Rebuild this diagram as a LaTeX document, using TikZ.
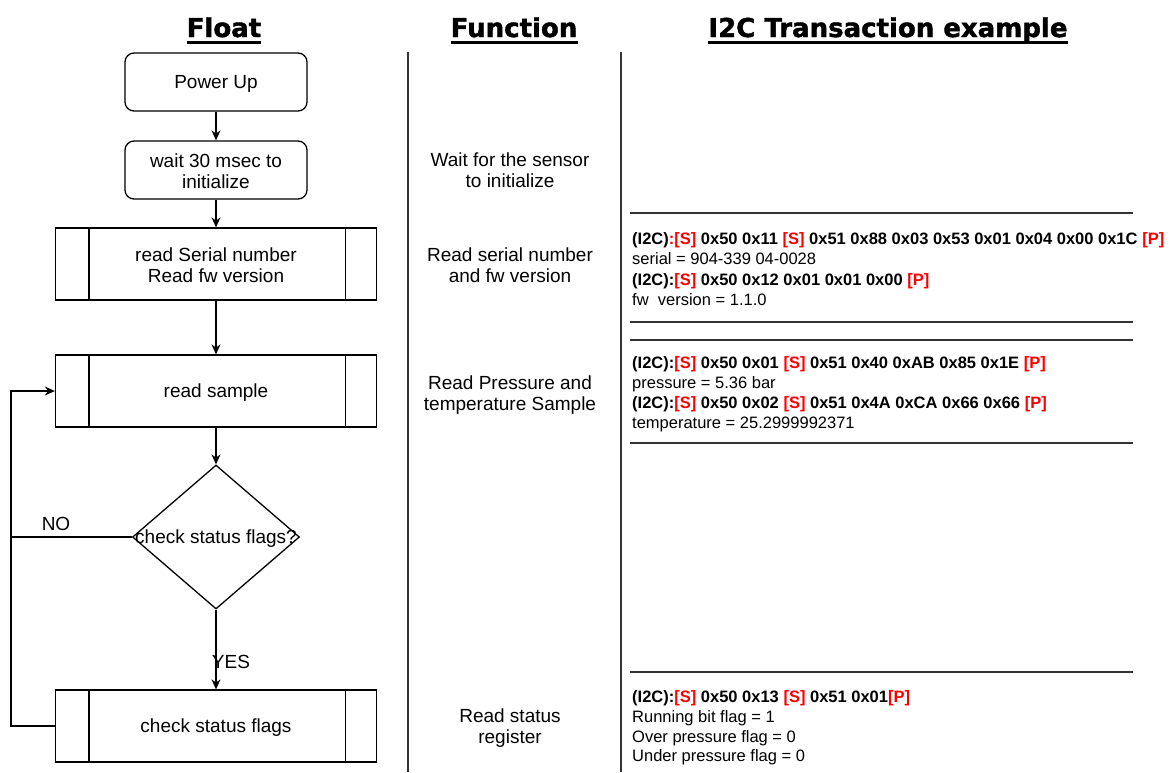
\documentclass[tikz,border=0pt]{standalone}
\usepackage{fontspec}
\setmainfont{Liberation Sans}
\newfontfamily\headfont[FakeBold=1.6]{DejaVu Sans Bold}
\usetikzlibrary{shapes.geometric,arrows.meta}
\definecolor{sepgray}{HTML}{333333}
\definecolor{tred}{HTML}{FF0000}
\newcommand{\rS}{\textcolor{tred}{[S]}}
\newcommand{\rP}{\textcolor{tred}{[P]}}
\begin{document}
\begin{tikzpicture}[x=1pt,y=-1pt,
  every node/.style={inner sep=0pt},
  flowtxt/.style={font=\fontsize{19}{21}\selectfont, align=center},
  roundbox/.style={draw, line width=1.3pt, rounded corners=9pt, minimum width=182pt, minimum height=58pt, flowtxt},
  procbox/.style={draw, line width=1.3pt, minimum width=321pt, minimum height=72pt, flowtxt},
  decbox/.style={draw, diamond, line width=1.3pt, minimum width=167pt, minimum height=144pt},
  head/.style={font=\headfont\fontsize{26}{30}\selectfont, anchor=base},
  uline/.style={line width=2.6pt},
  functxt/.style={font=\fontsize{19}{21}\selectfont, align=center},
  rtxt/.style={font=\fontsize{16.5}{20}\selectfont, anchor=base west},
  rbold/.style={rtxt, font=\fontsize{16.5}{20}\selectfont\bfseries},
  sep/.style={draw=sepgray, line width=1.8pt},
  flow/.style={line width=1.3pt},
  arr/.style={flow, -{Stealth[length=10pt,width=9pt]}}
]
\useasboundingbox (0,0) rectangle (1175,772);

% headers
\node[head] (hf) at (224,37) {Float};
\node[head] (hfn) at (514,37) {Function};
\node[head] (hi) at (888,37) {I2C Transaction example};
\foreach \h in {hf,hfn,hi}
  \draw[uline] ([yshift=-5.5pt]\h.base west) -- ([yshift=-5.5pt]\h.base east);

% column separators
\coordinate (v1t) at (408,52); \coordinate (v1b) at (408,772);
\coordinate (v2t) at (621,52); \coordinate (v2b) at (621,772);
\draw[sep] (v1t) -- (v1b);
\draw[sep] (v2t) -- (v2b);

% flowchart
\node[roundbox] (pu) at (216,82) {};
\node[flowtxt] (put) at (216,83.5) {Power Up};
\node[roundbox] (w) at (216,170) {};
\node[flowtxt] (wt) at (216,171) {wait 30 msec to\\initialize};
\node[procbox] (rsn) at (216,264) {};
\node[flowtxt] (rsnt) at (216,265) {read Serial number\\Read fw version};
\node[procbox] (rs) at (216,391) {};
\node[flowtxt] (rst) at (216,393) {read sample};
\node[decbox] (d) at (216,537) {};
\node[flowtxt] (dt) at (216,539) {check status flags?};
\node[procbox] (cs) at (216,726) {};
\node[flowtxt] (cst) at (216,728) {check status flags};
\foreach \n in {rsn,rs,cs}{
  \draw[flow] ([xshift=34pt]\n.north west) -- ([xshift=34pt]\n.south west);
  \draw[flow] ([xshift=-32pt]\n.north east) -- ([xshift=-32pt]\n.south east);
}
\draw[arr] (pu) -- (w);
\draw[arr] (w) -- (rsn);
\draw[arr] (rsn) -- (rs);
\draw[arr] (rs) -- (d);
\draw[arr] (d) -- (cs);
\coordinate (lp) at (11,726);
\coordinate (lq) at (11,537);
\draw[arr] (cs.west) -- (lp) |- (rs.west);
\draw[flow] (d.west) -- (lq);
\node[flowtxt] (no) at (56,524) {NO};
\node[flowtxt] (yes) at (231,662) {YES};

% function column
\node[functxt] (f1) at (510,170.5) {Wait for the sensor\\to initialize};
\node[functxt] (f2) at (510,265.5) {Read serial number\\and fw version};
\node[functxt] (f3) at (510,395.5) {Read Pressure and\\temperature Sample};
\node[functxt] (f4) at (510,728) {Read status\\register};

% right column separators
\foreach \y/\n in {213/a,322/b,340/c,443/d,672/e}{
  \coordinate (hl\n) at (630,\y); \coordinate (hr\n) at (1133,\y);
  \draw[sep] (hl\n) -- (hr\n);
}

% right column texts
\node[rbold] (t1) at (632,244) {(I2C)\textcolor{tred}{:}\rS{} 0x50 0x11 \rS{} 0x51 0x88 0x03 0x53 0x01 0x04 0x00 0x1C \rP};
\node[rtxt] (t2) at (632,264) {serial = 904-339 04-0028};
\node[rbold] (t3) at (632,285) {(I2C):\rS{} 0x50 0x12 0x01 0x01 0x00 \rP};
\node[rtxt] (t4) at (632,305) {fw\ \ version = 1.1.0};

\node[rbold] (t5) at (632,368.5) {(I2C):\rS{} 0x50 0x01 \rS{} 0x51 0x40 0xAB 0x85 0x1E \rP};
\node[rtxt] (t6) at (632,388) {pressure = 5.36 bar};
\node[rbold] (t7) at (632,408.5) {(I2C):\rS{} 0x50 0x02 \rS{} 0x51 0x4A 0xCA 0x66 0x66 \rP};
\node[rtxt] (t8) at (632,428.5) {temperature = 25.2999992371};

\node[rbold] (t9) at (632,702) {(I2C):\rS{} 0x50 0x13 \rS{} 0x51 0x01\rP};
\node[rtxt] (t10) at (632,722) {Running bit flag = 1};
\node[rtxt] (t11) at (632,742) {Over pressure flag = 0};
\node[rtxt] (t12) at (632,761.5) {Under pressure flag = 0};
\end{tikzpicture}
\end{document}
